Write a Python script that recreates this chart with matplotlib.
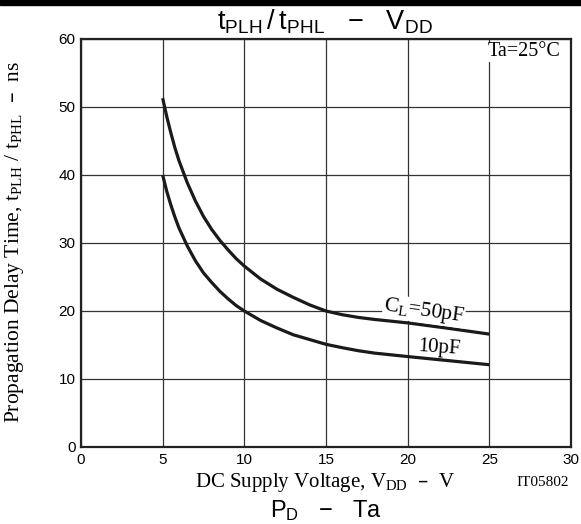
import matplotlib.pyplot as plt
from matplotlib.patches import Rectangle

# data
vdd_50 = [5, 5.25, 5.5, 5.75, 6, 6.5, 7, 7.5, 8, 8.5, 9, 9.5, 10, 11, 12, 13, 14, 15,
          16, 17, 18, 19, 20, 22.5, 25]
t_50 = [51.3, 48.6, 46.2, 44.0, 42.1, 38.9, 36.2, 33.9, 32.0, 30.4, 29.0, 27.7, 26.6, 24.7,
        23.2, 22.0, 20.9, 20.0, 19.45, 19.05, 18.75, 18.5, 18.25, 17.45, 16.6]
vdd_10 = [5, 5.25, 5.5, 5.75, 6, 6.5, 7, 7.5, 8, 8.5, 9, 9.5, 10, 11, 12, 13, 14, 15,
          16, 17, 18, 19, 20, 22.5, 25]
t_10 = [40.0, 37.6, 35.6, 33.8, 32.2, 29.6, 27.4, 25.6, 24.2, 22.9, 21.8, 20.8, 20.0, 18.6,
        17.5, 16.5, 15.8, 15.1, 14.6, 14.15, 13.8, 13.55, 13.3, 12.7, 12.1]
x_ticks = [0, 5, 10, 15, 20, 25, 30]
y_ticks = [0, 10, 20, 30, 40, 50, 60]

sans = 'Liberation Sans'
serif = 'Liberation Serif'

fig = plt.figure(figsize=(5.81, 5.24), dpi=100)
ax = fig.add_axes([81/581, 77/524, 490/581, 408/524])

ax.plot(vdd_50, t_50, color='#1a1a1a', lw=2.3, solid_capstyle='butt', solid_joinstyle='round')
ax.plot(vdd_10, t_10, color='#1a1a1a', lw=2.3, solid_capstyle='butt', solid_joinstyle='round')

ax.set_xlim(0, 30)
ax.set_ylim(0, 60)
ax.set_xticks(x_ticks)
ax.set_yticks(y_ticks)
ax.grid(True, color='#333333', lw=0.9)
ax.tick_params(length=0, pad=4, labelsize=11)
for lab in ax.get_xticklabels() + ax.get_yticklabels():
    lab.set_family(sans)
for s in ax.spines.values():
    s.set_linewidth(1.6)
    s.set_color('#222222')

ax.text(21.0, 20.0, r'C$_\mathregular{L}$=50pF', family=serif, fontsize=15.5, rotation=-8,
        ha='center', va='center', bbox=dict(fc='white', ec='none', pad=0.3), zorder=3)
ax.text(21.9, 14.6, '10pF', family=serif, fontsize=15, rotation=-4,
        ha='center', va='center', zorder=3)
ax.text(27.1, 58.1, 'Ta=25°C', family=serif, fontsize=14.5, ha='center', va='center',
        bbox=dict(fc='white', ec='none', pad=0.5), zorder=3)

ax.set_xlabel(r'DC Supply Voltage, V$_\mathregular{DD}$  –  V', family=serif, fontsize=15)
ax.xaxis.set_label_coords(0.498, -0.086)
ax.xaxis.label.set_va('center')
ax.set_ylabel(r'Propagation Delay Time, t$_\mathregular{PLH}$ / t$_\mathregular{PHL}$  –  ns',
              family=serif, fontsize=15.5)
ax.yaxis.set_label_coords(-0.135, 0.502)
ax.yaxis.label.set_va('center')

fig.text(325/581, 1 - 22/524, r'$\mathregular{t_{PLH}\,/\,t_{PHL}\ \ -\ \ V_{DD}}$', family=sans,
         fontsize=19.5, ha='center', va='center')
fig.text(543/581, 1 - 482/524, 'IT05802', family=serif, fontsize=11, ha='center', va='center')
fig.text(326/581, 1 - 517/524, r'$\mathregular{P_D\ \ -\ \ Ta}$', family=sans, fontsize=17,
         ha='center', va='baseline')

# black rule at the top of the page
fig.patches.append(Rectangle((0, 1 - 5/524), 1, 5/524, transform=fig.transFigure,
                             color='black', zorder=5))

fig.savefig('out.png', dpi=100)
